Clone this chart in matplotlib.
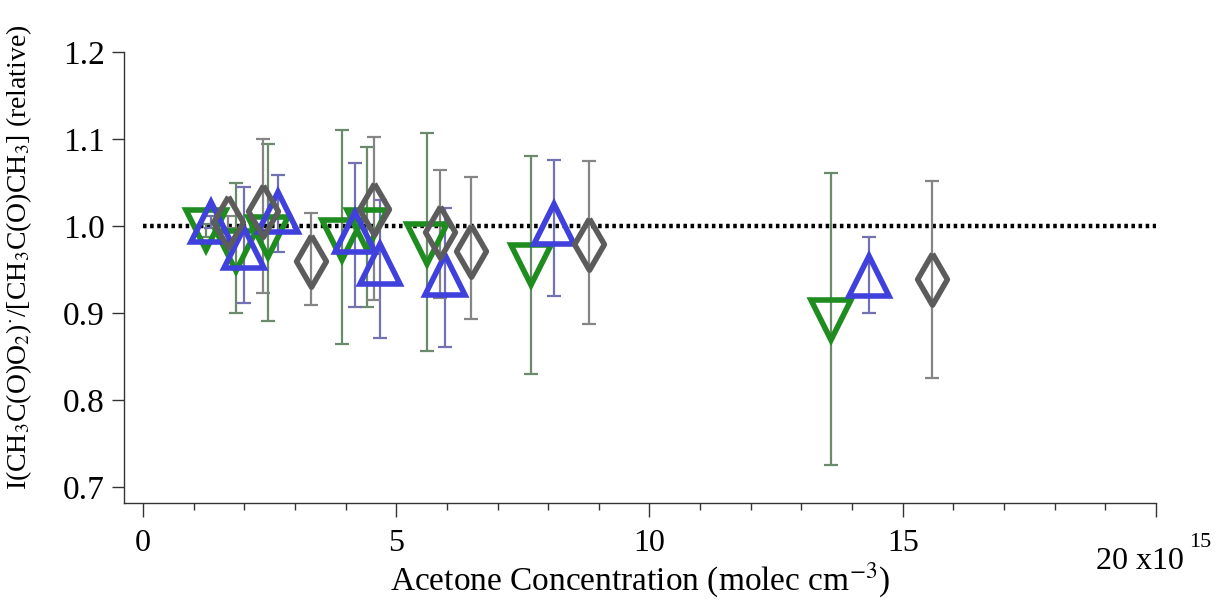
import matplotlib
matplotlib.use("Agg")
import matplotlib.pyplot as plt
from matplotlib.ticker import MultipleLocator

plt.rcParams['font.family'] = ['Liberation Serif', 'DejaVu Serif']
plt.rcParams['mathtext.fontset'] = 'stix'

# data (x in units of 1e15 molec cm-3)
blue_x = [1.34, 1.99, 2.67, 4.19, 4.68, 5.96, 8.11, 14.33]
blue_y = [1.005, 0.975, 1.016, 0.993, 0.956, 0.944, 1.002, 0.943]
blue_hi = [1.012, 1.045, 1.059, 1.072, 1.030, 1.021, 1.076, 0.987]
blue_lo = [0.998, 0.912, 0.970, 0.907, 0.872, 0.861, 0.920, 0.900]

green_x = [1.24, 1.84, 2.47, 3.93, 4.42, 5.61, 7.66, 13.58]
green_y = [0.995, 0.972, 0.988, 0.984, 0.996, 0.980, 0.955, 0.892]
green_hi = [1.002, 1.050, 1.094, 1.110, 1.091, 1.107, 1.080, 1.061]
green_lo = [0.988, 0.900, 0.891, 0.865, 0.907, 0.857, 0.830, 0.726]

gray_x = [1.68, 2.37, 3.32, 4.56, 5.86, 6.48, 8.80, 15.58]
gray_y = [1.005, 1.017, 0.960, 1.020, 0.993, 0.972, 0.980, 0.939]
gray_hi = [1.012, 1.100, 1.015, 1.102, 1.064, 1.057, 1.075, 1.052]
gray_lo = [0.998, 0.923, 0.909, 0.915, 0.917, 0.893, 0.888, 0.825]

fig = plt.figure(figsize=(12.17, 6.03), dpi=100)
ax = fig.add_axes([124/1217, 1 - 503/603, (1156 - 124)/1217, (503 - 52)/603])

# reference line at 1.0
ax.plot([0, 20], [1.0, 1.0], color='black', lw=3.2, ls=(0, (0.8, 0.8)), zorder=1)

# wider diamond than matplotlib's 'd'
diamond = [(0, 1), (0.58, 0), (0, -1), (-0.58, 0), (0, 1)]

series = [
    (green_x, green_y, green_hi, green_lo, 'v', '#1e8c1e', '#6b8a6b', 29),
    (blue_x, blue_y, blue_hi, blue_lo, '^', '#4040dc', '#7272b2', 29),
    (gray_x, gray_y, gray_hi, gray_lo, diamond, '#5c5c5c', '#858585', 37),
]
for xs, ys, hi, lo, mk, col, ecol, ms in series:
    yerr = [[y - l for y, l in zip(ys, lo)], [h - y for y, h in zip(ys, hi)]]
    ax.errorbar(xs, ys, yerr=yerr, fmt='none', ecolor=ecol, elinewidth=1.6,
                capsize=5, capthick=1.6, zorder=2)
    ax.plot(xs, ys, ls='none', marker=mk, ms=ms, mfc='none', mec=col,
            mew=4, zorder=3)

ax.set_xlim(-0.375, 20)
ax.set_ylim(0.682, 1.2)
ax.spines['top'].set_visible(False)
ax.spines['right'].set_visible(False)
for s in ('left', 'bottom'):
    ax.spines[s].set_linewidth(1.0)
    ax.spines[s].set_color('#333333')

ax.xaxis.set_minor_locator(MultipleLocator(1))
ax.set_xticks([0, 5, 10, 15, 20])
ax.set_xticklabels(['0', '5', '10', '15', ''])
ax.set_yticks([0.7, 0.8, 0.9, 1.0, 1.1, 1.2])
ax.set_yticklabels(['0.7', '0.8', '0.9', '1.0', '1.1', '1.2'])
ax.tick_params(axis='x', which='major', direction='out', length=10, width=1,
               labelsize=23, pad=9, color='#333333')
ax.tick_params(axis='x', which='minor', direction='out', length=5, width=1,
               color='#333333')
ax.tick_params(axis='y', which='major', direction='out', length=9, width=1,
               labelsize=24, pad=5, color='#333333')

# axis multiplier, drawn like the source program does it
fig.text(1096/1217, 1 - 569/603, '20 x10', fontsize=23, ha='left',
         va='baseline')
fig.text(1189/1217, 1 - 547/603, '15', fontsize=16, ha='left',
         va='baseline')

ax.set_xlabel(r'Acetone Concentration (molec cm$^{-3}$)', fontsize=24,
              labelpad=2)
ax.set_ylabel(r'I(CH$_3$C(O)O$_2$)$^{\cdot}$/[CH$_3$C(O)CH$_3$] (relative)',
              fontsize=20)
ax.yaxis.set_label_coords(-0.087, 0.545)

fig.savefig('out.png', dpi=100)
